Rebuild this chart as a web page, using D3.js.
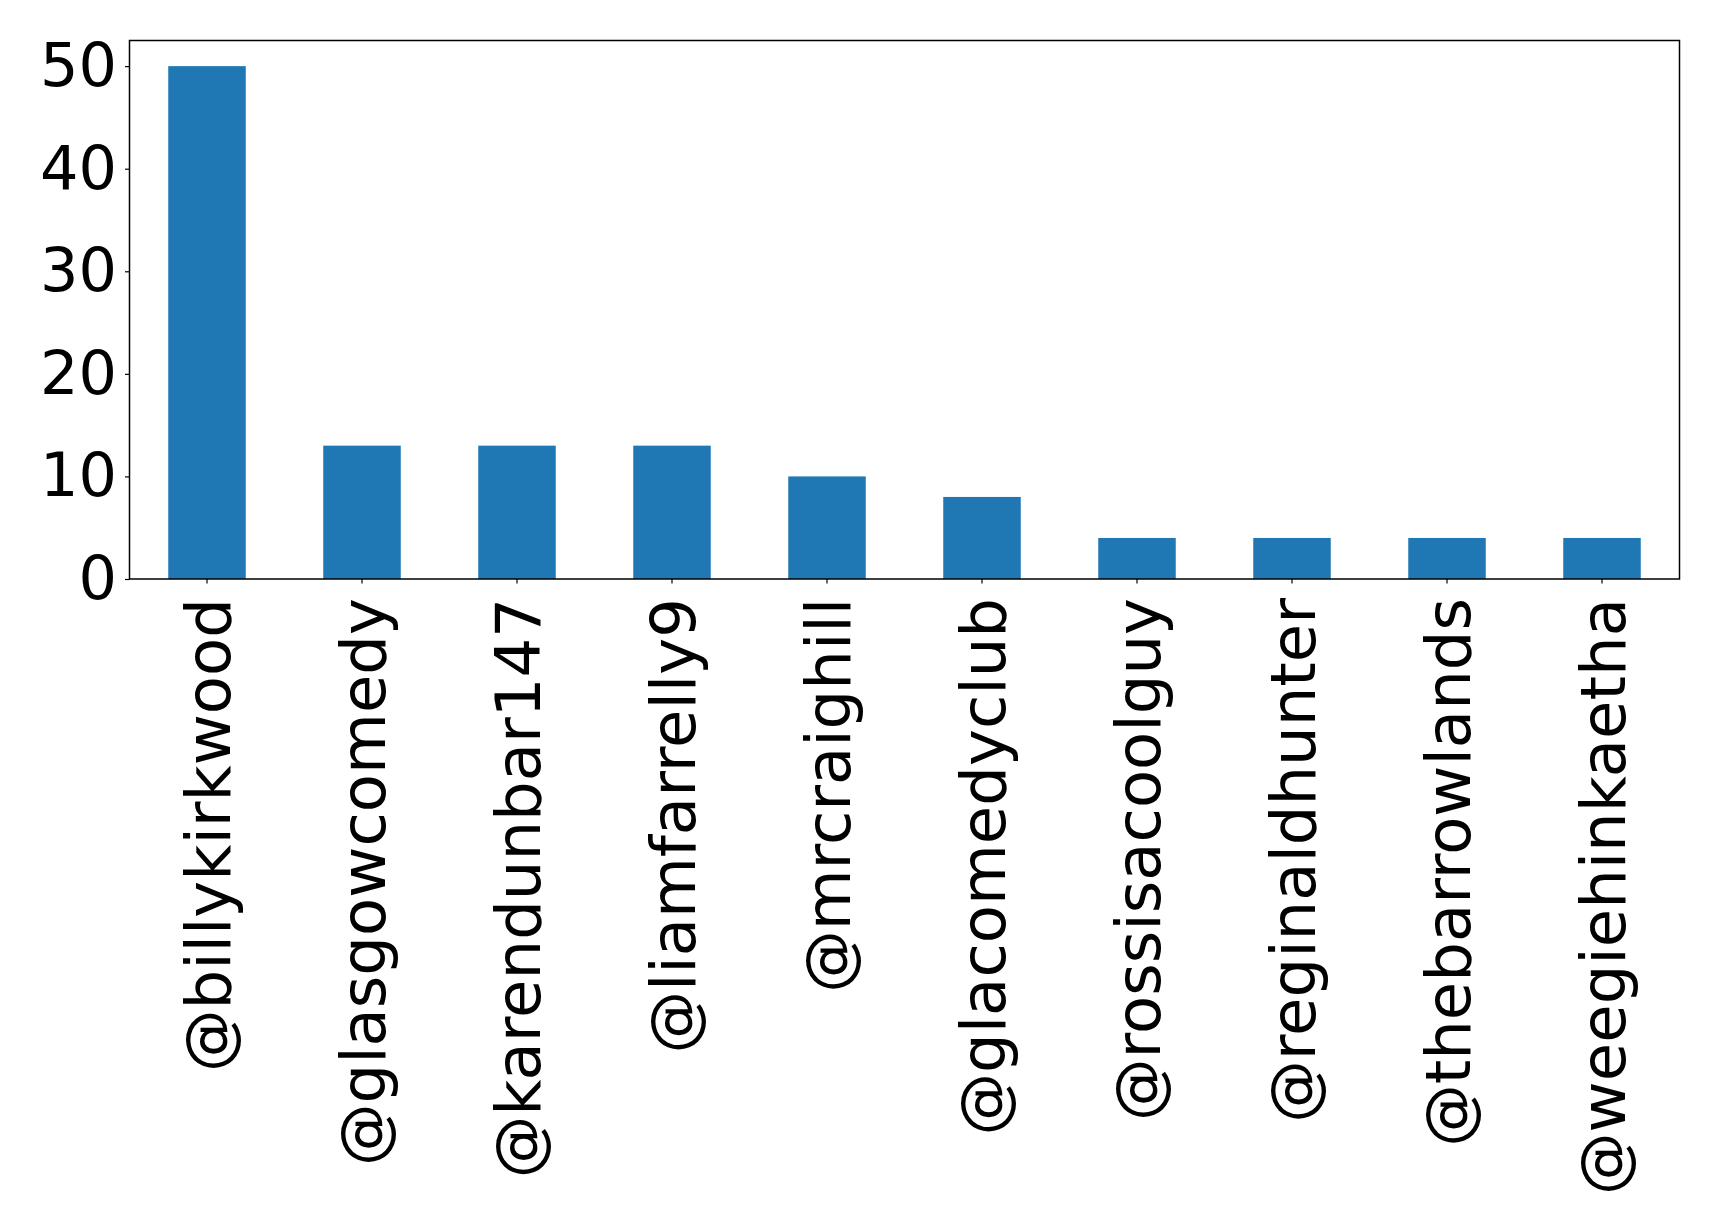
<!DOCTYPE html>
<html><head><meta charset="utf-8">
<script src="https://cdn.jsdelivr.net/npm/d3@7"></script>
<style>body{margin:0;background:#fff}</style>
</head><body>
<script>
const categories = ["@billykirkwood","@glasgowcomedy","@karendunbar147","@liamfarrelly9","@mrcraighill","@glacomedyclub","@rossisacoolguy","@reginaldhunter","@thebarrowlands","@weegiehinkaetha"];
const values = [50,13,13,13,10,8,4,4,4,4];
const yTicks = [0,10,20,30,40,50];

const W=1719,H=1225;
const m={left:129.5,right:1679.5,top:40.5,bottom:579};
const svg=d3.select("body").append("svg").attr("width",W).attr("height",H);
const x=d3.scaleBand().domain(categories).range([m.left,m.right]).paddingInner(0.5).paddingOuter(0.25);
const y=d3.scaleLinear().domain([0,52.5]).range([m.bottom,m.top]);
const font="DejaVu Sans";
svg.append("g").selectAll("rect").data(values).join("rect")
 .attr("x",(d,i)=>x(categories[i])).attr("width",x.bandwidth())
 .attr("y",d=>y(d)).attr("height",d=>y(0)-y(d)).attr("fill","#1f77b4");
svg.append("rect").attr("x",m.left).attr("y",m.top).attr("width",m.right-m.left).attr("height",m.bottom-m.top)
 .attr("fill","none").attr("stroke","#000").attr("stroke-width",1.5);
const ya=svg.append("g").attr("transform",`translate(${m.left},0)`)
 .call(d3.axisLeft(y).tickValues(yTicks).tickSize(4.5).tickPadding(8).tickFormat(d3.format("d")));
ya.select(".domain").remove();
ya.selectAll("text").attr("font-family",font).attr("font-size",60.5).attr("fill","#000");
ya.selectAll("line").attr("stroke","#000").attr("stroke-width",1.2);
const xa=svg.append("g").attr("transform",`translate(0,${m.bottom})`)
 .call(d3.axisBottom(x).tickSize(4.5).tickPadding(0));
xa.select(".domain").remove();
xa.selectAll("line").attr("stroke","#000").attr("stroke-width",1.2);
xa.selectAll("text").attr("font-family",font).attr("font-size",62.5).attr("fill","#000")
 .attr("transform","rotate(-90)").attr("text-anchor","end").attr("x",-19).attr("y",0).attr("dy","0.36em");
</script>
</body></html>
